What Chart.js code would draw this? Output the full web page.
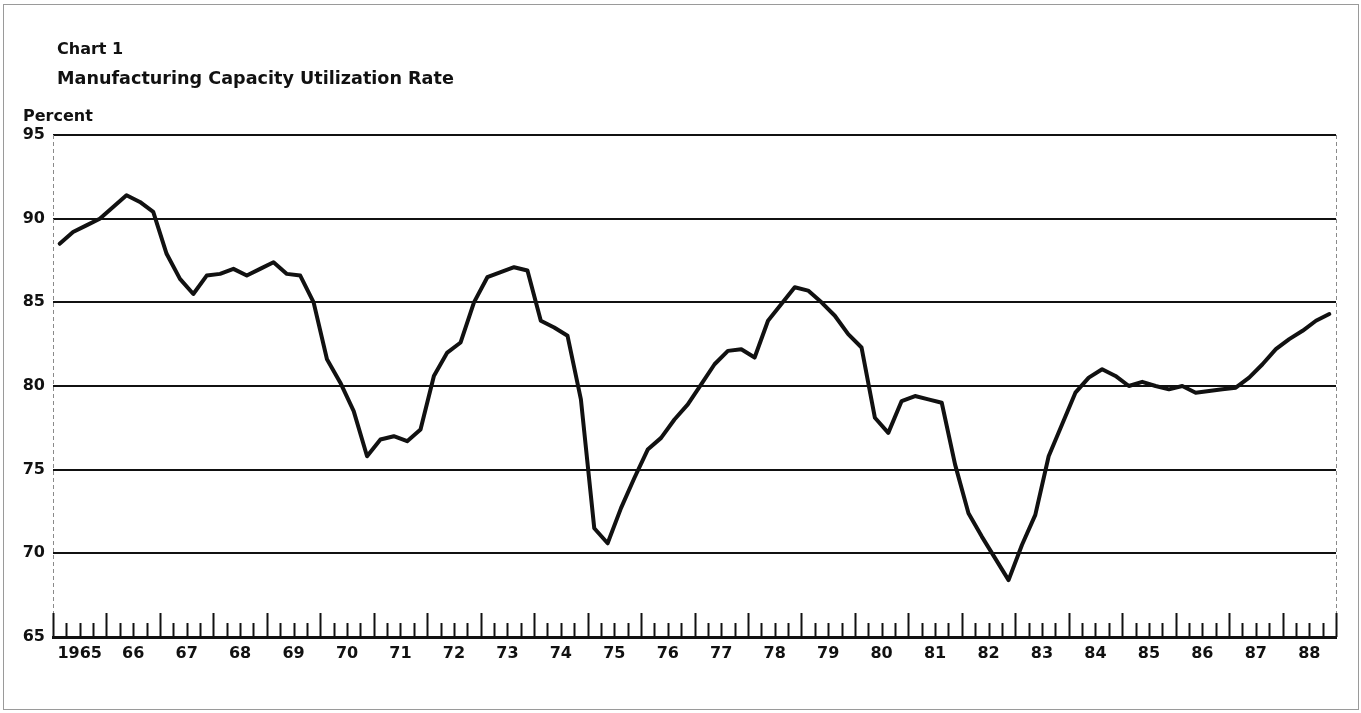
<!DOCTYPE html>
<html>
<head>
<meta charset="utf-8">
<script src="https://cdn.jsdelivr.net/npm/chart.js@4.4.1/dist/chart.umd.min.js"></script>
<style>
    body { margin: 0; background: #fff; }
    #wrap { position: relative; width: 1361px; height: 713px; overflow: hidden; }
    #frame { position: absolute; left: 3px; top: 4px; width: 1354px; height: 704px; border: 1px solid #9a9a9a; }
    canvas { position: absolute; left: 0; top: 0; }
    .txt { position: absolute; font-family: "DejaVu Sans", sans-serif; font-weight: bold; color: #111; line-height: 1; white-space: nowrap; }
    #chartNum { left: 57px; top: 41px; font-size: 16px; }
    #chartTitle { left: 57px; top: 70px; font-size: 17.6px; }
    #unit { left: 23px; top: 108px; font-size: 16px; }
</style>
</head>
<body>
<div id="wrap">
    <div id="frame"></div>
    <canvas id="capChart" width="1361" height="713"></canvas>
    <div class="txt" id="chartNum">Chart 1</div>
    <div class="txt" id="chartTitle">Manufacturing Capacity Utilization Rate</div>
    <div class="txt" id="unit">Percent</div>
</div>
<script>
// Años (etiquetas del eje X)
const yearLabels = ['1965', '66', '67', '68', '69', '70', '71', '72', '73', '74', '75', '76',
    '77', '78', '79', '80', '81', '82', '83', '84', '85', '86', '87', '88'];
const firstYear = 1965;

// Tasa de utilización trimestral (4 valores por año)
const utilization = [
    88.5, 89.2, 89.6, 90.0,   // 1965
    90.7, 91.4, 91.0, 90.4,   // 66
    87.9, 86.4, 85.5, 86.6,   // 67
    86.7, 87.0, 86.6, 87.0,   // 68
    87.4, 86.7, 86.6, 85.0,   // 69
    81.6, 80.2, 78.5, 75.8,   // 70
    76.8, 77.0, 76.7, 77.4,   // 71
    80.6, 82.0, 82.6, 85.0,   // 72
    86.5, 86.8, 87.1, 86.9,   // 73
    83.9, 83.5, 83.0, 79.2,   // 74
    71.5, 70.6, 72.7, 74.5,   // 75
    76.2, 76.9, 78.0, 78.9,   // 76
    80.1, 81.3, 82.1, 82.2,   // 77
    81.7, 83.9, 84.9, 85.9,   // 78
    85.7, 85.0, 84.2, 83.1,   // 79
    82.3, 78.1, 77.2, 79.1,   // 80
    79.4, 79.2, 79.0, 75.3,   // 81
    72.4, 71.0, 69.7, 68.4,   // 82
    70.5, 72.3, 75.8, 77.7,   // 83
    79.6, 80.5, 81.0, 80.6,   // 84
    80.0, 80.25, 80.0, 79.8,  // 85
    80.0, 79.6, 79.7, 79.8,   // 86
    79.9, 80.5, 81.3, 82.2,   // 87
    82.8, 83.3, 83.9, 84.3    // 88
];

// Marcas del eje Y
const yTicks = [65, 70, 75, 80, 85, 90, 95];

const tickFont = { family: 'DejaVu Sans', size: 16, weight: 'bold' };

// Puntos centrados en cada trimestre
const points = utilization.map((v, i) => ({ x: firstYear + (i + 0.5) / 4, y: v }));

// Bordes punteados a izquierda y derecha (antes de la línea)
const sideBorders = {
    id: 'sideBorders',
    beforeDatasetsDraw(chart) {
        const ctx = chart.ctx;
        const area = chart.chartArea;
        ctx.save();
        ctx.strokeStyle = '#8a8a8a';
        ctx.lineWidth = 1;
        ctx.setLineDash([4, 3]);
        [area.left, area.right].forEach(x => {
            ctx.beginPath();
            ctx.moveTo(Math.round(x) + 0.5, area.top);
            ctx.lineTo(Math.round(x) + 0.5, area.bottom);
            ctx.stroke();
        });
        ctx.restore();
    }
};

// Marcas trimestrales hacia arriba desde la línea base
const quarterTicks = {
    id: 'quarterTicks',
    afterDraw(chart) {
        const ctx = chart.ctx;
        const xs = chart.scales.x;
        const area = chart.chartArea;
        ctx.save();
        ctx.strokeStyle = '#111';
        ctx.lineWidth = 2;
        for (let k = 0; k <= yearLabels.length * 4; k++) {
            const px = Math.round(xs.getPixelForValue(firstYear + k / 4)) + 0.5;
            const h = k % 4 === 0 ? 24 : 14;
            ctx.beginPath();
            ctx.moveTo(px, area.bottom);
            ctx.lineTo(px, area.bottom - h);
            ctx.stroke();
        }
        ctx.restore();
    }
};

const ctx = document.getElementById('capChart').getContext('2d');
const capChart = new Chart(ctx, {
    type: 'line',
    data: {
        datasets: [{
            label: 'Manufacturing Capacity Utilization Rate',
            data: points,
            borderColor: '#111',
            borderWidth: 4,
            pointRadius: 0,
            tension: 0,
            borderJoinStyle: 'round',
            borderCapStyle: 'round'
        }]
    },
    options: {
        responsive: false,
        animation: false,
        layout: { padding: { left: 0, right: 25, top: 135, bottom: 46 } },
        plugins: {
            legend: { display: false },
            tooltip: { enabled: false }
        },
        scales: {
            x: {
                type: 'linear',
                min: firstYear,
                max: firstYear + yearLabels.length,
                afterFit(scale) { scale.height = 30; },
                afterBuildTicks(scale) {
                    scale.ticks = yearLabels.map((_, i) => ({ value: firstYear + i + 0.5 }));
                },
                ticks: {
                    autoSkip: false,
                    maxRotation: 0,
                    padding: 7,
                    color: '#111',
                    font: tickFont,
                    callback: (value) => yearLabels[Math.floor(value - firstYear)]
                },
                grid: { display: false, drawTicks: false },
                border: { display: true, color: '#111', width: 3 }
            },
            y: {
                min: 65,
                max: 95,
                afterFit(scale) { scale.width = 53; },
                afterBuildTicks(scale) {
                    scale.ticks = yTicks.map(v => ({ value: v }));
                },
                ticks: { padding: 8, color: '#111', font: tickFont },
                grid: { color: '#111', lineWidth: 2, drawTicks: false },
                border: { display: false }
            }
        }
    },
    plugins: [sideBorders, quarterTicks]
});
</script>
</body>
</html>
